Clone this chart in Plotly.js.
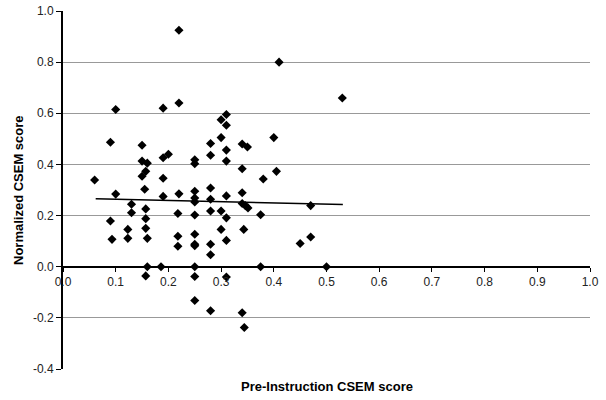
<!DOCTYPE html>
<html>
<head>
<meta charset="utf-8">
<script src="https://cdn.plot.ly/plotly-3.0.1.min.js"></script>
<style>html,body{margin:0;padding:0;background:#fff;}#chart{width:606px;height:400px;}</style>
</head>
<body>
<div id="chart"></div>
<script>
// Pre-instruction CSEM score (x) and normalized CSEM score (y)
const preScore = [
  0.22, 0.10, 0.19, 0.22, 0.41, 0.53, 0.31, 0.30, 0.31, 0.30,
  0.40, 0.09, 0.15, 0.28, 0.15, 0.16, 0.19, 0.20, 0.25, 0.25,
  0.28, 0.31, 0.34, 0.35, 0.31, 0.34, 0.405, 0.38, 0.15, 0.157,
  0.06, 0.19, 0.155, 0.10, 0.19, 0.22, 0.25, 0.25, 0.25, 0.28,
  0.28, 0.34, 0.31, 0.34, 0.346, 0.351, 0.47, 0.13, 0.13, 0.157,
  0.157, 0.28, 0.218, 0.25, 0.30, 0.31, 0.375, 0.09, 0.123, 0.157,
  0.30, 0.343, 0.093, 0.123, 0.16, 0.218, 0.25, 0.218, 0.25, 0.25,
  0.28, 0.28, 0.31, 0.47, 0.45, 0.16, 0.186, 0.25, 0.375, 0.50,
  0.157, 0.25, 0.31, 0.25, 0.28, 0.34, 0.344
];
const normScore = [
  0.925, 0.615, 0.62, 0.64, 0.80, 0.66, 0.595, 0.575, 0.553, 0.505,
  0.505, 0.487, 0.475, 0.482, 0.413, 0.405, 0.426, 0.44, 0.418, 0.403,
  0.436, 0.456, 0.48, 0.468, 0.413, 0.383, 0.373, 0.343, 0.354, 0.373,
  0.339, 0.346, 0.303, 0.284, 0.275, 0.285, 0.295, 0.269, 0.253, 0.308,
  0.264, 0.289, 0.277, 0.247, 0.239, 0.230, 0.239, 0.244, 0.211, 0.226,
  0.188, 0.218, 0.208, 0.202, 0.218, 0.191, 0.203, 0.179, 0.146, 0.150,
  0.146, 0.146, 0.107, 0.111, 0.111, 0.119, 0.127, 0.080, 0.088, 0.082,
  0.088, 0.047, 0.103, 0.116, 0.091, 0.0, 0.0, 0.0, 0.0, 0.0,
  -0.036, -0.038, -0.04, -0.132, -0.172, -0.18, -0.238
];
// Linear trendline as drawn in the reference (end points)
const trendPre = [0.062, 0.531];
const trendNorm = [0.266, 0.243];

const xTicks = [0, 0.1, 0.2, 0.3, 0.4, 0.5, 0.6, 0.7, 0.8, 0.9, 1.0];
const yTicks = [-0.4, -0.2, 0, 0.2, 0.4, 0.6, 0.8, 1.0];
const xRange = [0, 1];
const yRange = [-0.4, 1.0];

const FAM = 'Liberation Sans, Arial, sans-serif';
const data = [
  {x: preScore, y: normScore, type: 'scatter', mode: 'markers',
   marker: {symbol: 'diamond', size: 7, color: '#000'}, hoverinfo: 'skip'},
  {x: trendPre, y: trendNorm, type: 'scatter', mode: 'lines',
   line: {color: '#000', width: 1.5}, hoverinfo: 'skip'}
];
const layout = {
  width: 606, height: 400,
  margin: {l: 63, r: 16, t: 11, b: 31},
  paper_bgcolor: '#fff', plot_bgcolor: '#fff',
  showlegend: false,
  font: {family: FAM, size: 12, color: '#000'},
  xaxis: {
    range: xRange, tickvals: xTicks, ticktext: xTicks.map(v => v.toFixed(1)),
    anchor: 'free', position: (0 - yRange[0]) / (yRange[1] - yRange[0]),
    showgrid: false, zeroline: false, showline: true, linecolor: '#000', linewidth: 2,
    ticks: 'outside', ticklen: 4, tickcolor: '#000', tickwidth: 1,
    tickfont: {family: FAM, size: 12, color: '#222'}
  },
  yaxis: {
    range: yRange, tickvals: yTicks, ticktext: yTicks.map(v => v.toFixed(1)),
    showgrid: true, gridcolor: '#999', gridwidth: 1,
    zeroline: false, showline: true, linecolor: '#000', linewidth: 2,
    ticks: 'outside', ticklen: 5, tickcolor: '#000', tickwidth: 1,
    tickfont: {family: FAM, size: 12, color: '#222'}
  },
  annotations: [
    {text: '<b>Pre-Instruction CSEM score</b>', xref: 'paper', yref: 'paper',
     x: 0.5, y: 0, yshift: -8, xanchor: 'center', yanchor: 'top', showarrow: false,
     font: {family: FAM, size: 13, color: '#000'}},
    {text: '<b>Normalized CSEM score</b>', xref: 'paper', yref: 'paper',
     x: 0, xshift: -45, y: 0.5, xanchor: 'center', yanchor: 'middle', textangle: -90,
     showarrow: false, font: {family: FAM, size: 13, color: '#000'}}
  ]
};
Plotly.newPlot('chart', data, layout, {staticPlot: true, displayModeBar: false});
</script>
</body>
</html>
